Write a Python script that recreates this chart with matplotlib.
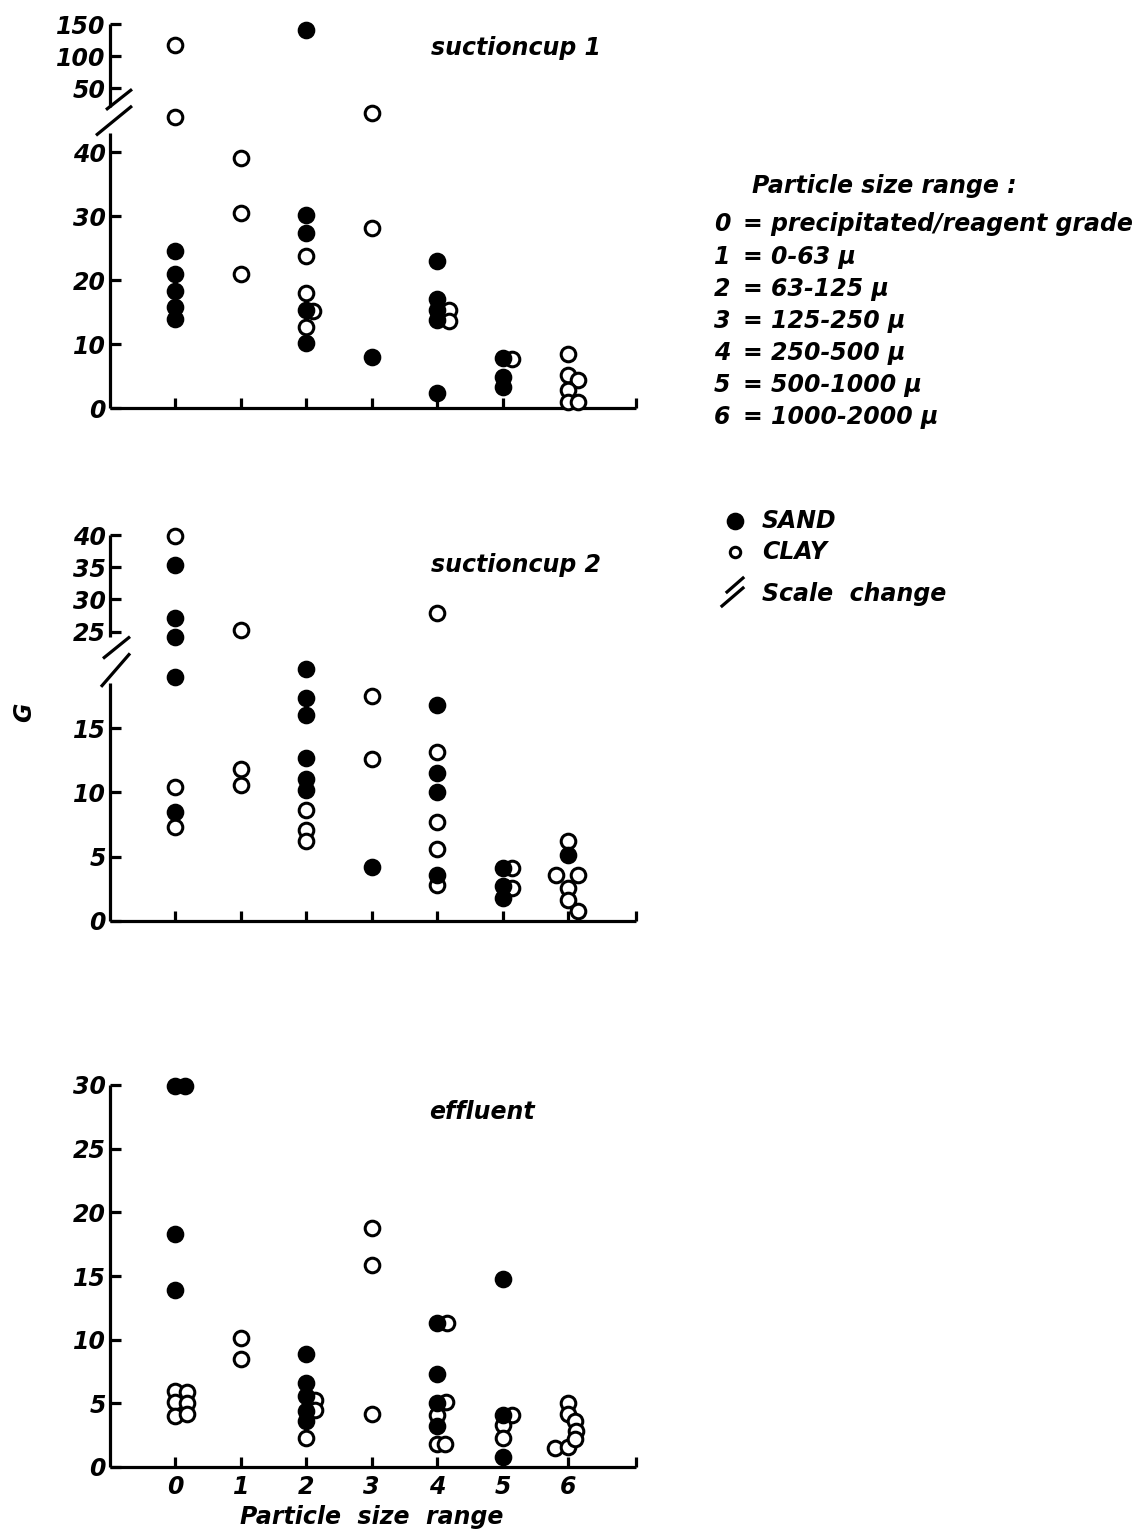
import numpy as np
import matplotlib
matplotlib.use("Agg")
import matplotlib.pyplot as plt
from matplotlib.lines import Line2D

# ---------------- data ----------------
categories = [0, 1, 2, 3, 4, 5, 6]
x_tick_labels = ["0", "1", "2", "3", "4", "5", "6"]

# suctioncup 1
s1_sand_x = [0, 0, 0, 0, 0, 2, 2, 2, 2, 2, 3, 4, 4, 4, 4, 4, 5, 5, 5]
s1_sand_y = [24.5, 21.0, 18.3, 15.8, 13.9, 140, 30.2, 27.3, 15.3, 10.1, 7.9,
             23.0, 17.1, 15.3, 13.8, 2.3, 7.8, 4.9, 3.3]
s1_clay_x = [0, 0, 1, 1, 1, 2, 2, 2.11, 2, 3, 3, 4.18, 4.18, 5.15,
             6, 6, 6.15, 6, 6, 6.15]
s1_clay_y = [117, 45.5, 39.1, 30.5, 21.0, 23.8, 17.9, 15.1, 12.7, 46.1, 28.2,
             15.3, 13.6, 7.6, 8.5, 5.2, 4.4, 2.8, 1.0, 1.0]
s1_ticks = [0, 10, 20, 30, 40, 50, 100, 150]

# suctioncup 2
s2_sand_x = [0, 0, 0, 0, 0, 2, 2, 2, 2, 2, 2, 3, 4, 4, 4, 4, 5, 5, 5, 6]
s2_sand_y = [35.4, 27.1, 24.2, 19.0, 8.5, 19.6, 17.3, 16.0, 12.7, 11.0, 10.2,
             4.2, 16.8, 11.5, 10.0, 3.6, 4.1, 2.7, 1.8, 5.1]
s2_clay_x = [0, 0, 0, 1, 1, 1, 2, 2, 2, 3, 3, 4, 4, 4, 4, 4, 5.15, 5.15,
             6, 5.82, 6.15, 6, 6, 6.15]
s2_clay_y = [39.8, 10.4, 7.3, 25.3, 11.8, 10.6, 8.6, 7.1, 6.2, 17.5, 12.6,
             27.8, 13.1, 7.7, 5.6, 2.8, 4.1, 2.6, 6.2, 3.6, 3.6, 2.6, 1.6, 0.8]
s2_ticks = [0, 5, 10, 15, 25, 30, 35, 40]

# effluent
ef_sand_x = [0, 0.15, 0, 0, 2, 2, 2, 2, 2, 4, 4, 4, 4, 5, 5, 5]
ef_sand_y = [29.9, 29.9, 18.3, 13.9, 8.9, 6.6, 5.6, 4.4, 3.6, 11.3, 7.3, 5.0,
             3.2, 14.8, 4.1, 0.8]
ef_clay_x = [0, 0, 0, 0.17, 0.17, 0.17, 1, 1, 2.13, 2.13, 2, 3, 3, 3,
             4.15, 4.13, 4, 4, 4.12, 5.15, 5, 5, 6, 6, 6.1, 6.12, 5.8, 6, 6.1]
ef_clay_y = [6.0, 5.1, 4.0, 5.9, 5.0, 4.2, 10.1, 8.5, 5.3, 4.5, 2.3, 18.8,
             15.9, 4.2, 11.3, 5.1, 4.1, 1.8, 1.8, 4.1, 3.3, 2.3, 5.0, 4.2,
             3.6, 2.8, 1.5, 1.6, 2.2]
ef_ticks = [0, 5, 10, 15, 20, 25, 30]

legend_title = "Particle size range :"
legend_nums = ["0", "1", "2", "3", "4", "5", "6"]
legend_texts = ["= precipitated/reagent grade", "= 0-63 μ", "= 63-125 μ",
                "= 125-250 μ", "= 250-500 μ", "= 500-1000 μ", "= 1000-2000 μ"]

# ---------------- style ----------------
W, H = 1138, 1534
FONT = dict(family="DejaVu Sans", style="italic", weight="bold")
FS = 17
LW = 2.3
MS = 10.5
MEW = 2.2

fig = plt.figure(figsize=(W / 100, H / 100), dpi=100)
fig.patch.set_facecolor("white")


def fx(px):
    return px / W


def fy(py):
    return 1 - py / H


def broken_scale(kink, k):
    def fwd(v):
        v = np.asarray(v, dtype=float)
        return np.where(v <= kink, v, kink + (v - kink) * k)

    def inv(f):
        f = np.asarray(f, dtype=float)
        return np.where(f <= kink, f, kink + (f - kink) / k)
    return fwd, inv


def make_panel(rect, sx, sy, cx, cy, yticks, ylim, scale=None,
               segs=None, slashes=None, title=None, title_xy=None,
               xlabels=False):
    ax = fig.add_axes(rect)
    if scale is not None:
        ax.set_yscale("function", functions=scale)
    ax.set_xlim(-1.0, 7.04)
    ax.set_ylim(*ylim)
    for s in ["top", "right", "left"]:
        ax.spines[s].set_visible(False)
    ax.spines["bottom"].set_linewidth(LW)
    ax.spines["bottom"].set_capstyle("butt")

    tr = ax.get_yaxis_transform()
    for (a, b) in segs:
        ax.plot([0, 0], [a, b], transform=tr, color="black", lw=LW,
                clip_on=False, solid_capstyle="butt")
    if slashes:
        for (xa, ya, xb, yb) in slashes:
            ax.plot([xa, xb], [ya, yb], transform=tr, color="black", lw=LW,
                    clip_on=False, solid_capstyle="butt")

    ax.plot(cx, cy, linestyle="none", marker="o", ms=MS, mew=MEW,
            mfc="white", mec="black", clip_on=False, zorder=3)
    ax.plot(sx, sy, linestyle="none", marker="o", ms=MS, mew=MEW,
            mfc="black", mec="black", clip_on=False, zorder=4)

    ax.set_yticks(yticks)
    ax.set_yticklabels([str(t) for t in yticks])
    ax.yaxis.set_minor_locator(matplotlib.ticker.NullLocator())
    ax.tick_params(axis="y", direction="in", length=8, width=LW, pad=3,
                   labelsize=FS)
    ax.set_xticks(categories + [7.04])
    if xlabels:
        ax.set_xticklabels(x_tick_labels + [""])
    else:
        ax.set_xticklabels([""] * 8)
    ax.tick_params(axis="x", direction="in", length=7, width=LW, pad=6,
                   labelsize=FS)
    for lab in ax.get_yticklabels() + ax.get_xticklabels():
        lab.set_fontfamily(FONT["family"])
        lab.set_fontstyle(FONT["style"])
        lab.set_fontweight(FONT["weight"])
    if title:
        fig.text(fx(title_xy[0]), fy(title_xy[1]), title, ha="center",
                 va="center", fontsize=FS, **FONT)
    return ax


# panel 1: suctioncup 1
px1 = 526.0
make_panel([fx(110), fy(408), fx(636) - fx(110), (408 - 24) / H],
           s1_sand_x, s1_sand_y, s1_clay_x, s1_clay_y, s1_ticks, (0, 150),
           scale=broken_scale(50, 0.1),
           segs=[(0, 43.0), (47.0, 150)],
           slashes=[(-4 / px1, 46.6, 22 / px1, 49.8),
                    (-14 / px1, 42.6, 22 / px1, 47.2)],
           title="suctioncup 1", title_xy=(516, 48))

# panel 2: suctioncup 2
make_panel([fx(110), fy(921), fx(636) - fx(110), (921 - 535) / H],
           s2_sand_x, s2_sand_y, s2_clay_x, s2_clay_y, s2_ticks, (0, 40),
           scale=broken_scale(20, 0.5),
           segs=[(0, 18.5), (24.2, 40)],
           slashes=[(-7 / px1, 20.8, 20 / px1, 24.2),
                    (-9 / px1, 18.2, 20 / px1, 21.6)],
           title="suctioncup 2", title_xy=(516, 565))

# panel 3: effluent
make_panel([fx(110), fy(1467), fx(636) - fx(110), (1467 - 1085) / H],
           ef_sand_x, ef_sand_y, ef_clay_x, ef_clay_y, ef_ticks, (0, 30),
           segs=[(0, 30)], title="effluent", title_xy=(482, 1112),
           xlabels=True)

fig.text(fx(372), fy(1517), "Particle  size  range", ha="center",
         va="center", fontsize=FS, **FONT)
fig.text(fx(24), fy(712), "G", ha="center", va="center", rotation=90,
         fontsize=FS, **FONT)

# legend text
fig.text(fx(752), fy(186), legend_title, ha="left", va="center",
         fontsize=FS, **FONT)
leg_y = [224, 257, 289, 321, 353, 385, 417]
for n, t, yy in zip(legend_nums, legend_texts, leg_y):
    fig.text(fx(714), fy(yy), n, ha="left", va="center", fontsize=FS, **FONT)
    fig.text(fx(743), fy(yy), t, ha="left", va="center", fontsize=FS, **FONT)

# marker legend
fig.add_artist(Line2D([fx(735)], [fy(521)], marker="o", ms=MS, mew=MEW,
                      mfc="black", mec="black", transform=fig.transFigure))
fig.add_artist(Line2D([fx(735)], [fy(552)], marker="o", ms=7.5, mew=MEW,
                      mfc="white", mec="black", transform=fig.transFigure))
fig.add_artist(Line2D([fx(727), fx(743)], [fy(592), fy(578)], lw=LW,
                      color="black", transform=fig.transFigure))
fig.add_artist(Line2D([fx(722), fx(743)], [fy(606), fy(588)], lw=LW,
                      color="black", transform=fig.transFigure))
fig.text(fx(762), fy(521), "SAND", ha="left", va="center", fontsize=FS, **FONT)
fig.text(fx(762), fy(552), "CLAY", ha="left", va="center", fontsize=FS, **FONT)
fig.text(fx(762), fy(594), "Scale  change", ha="left", va="center",
         fontsize=FS, **FONT)

fig.savefig("out.png", dpi=100, facecolor="white")
